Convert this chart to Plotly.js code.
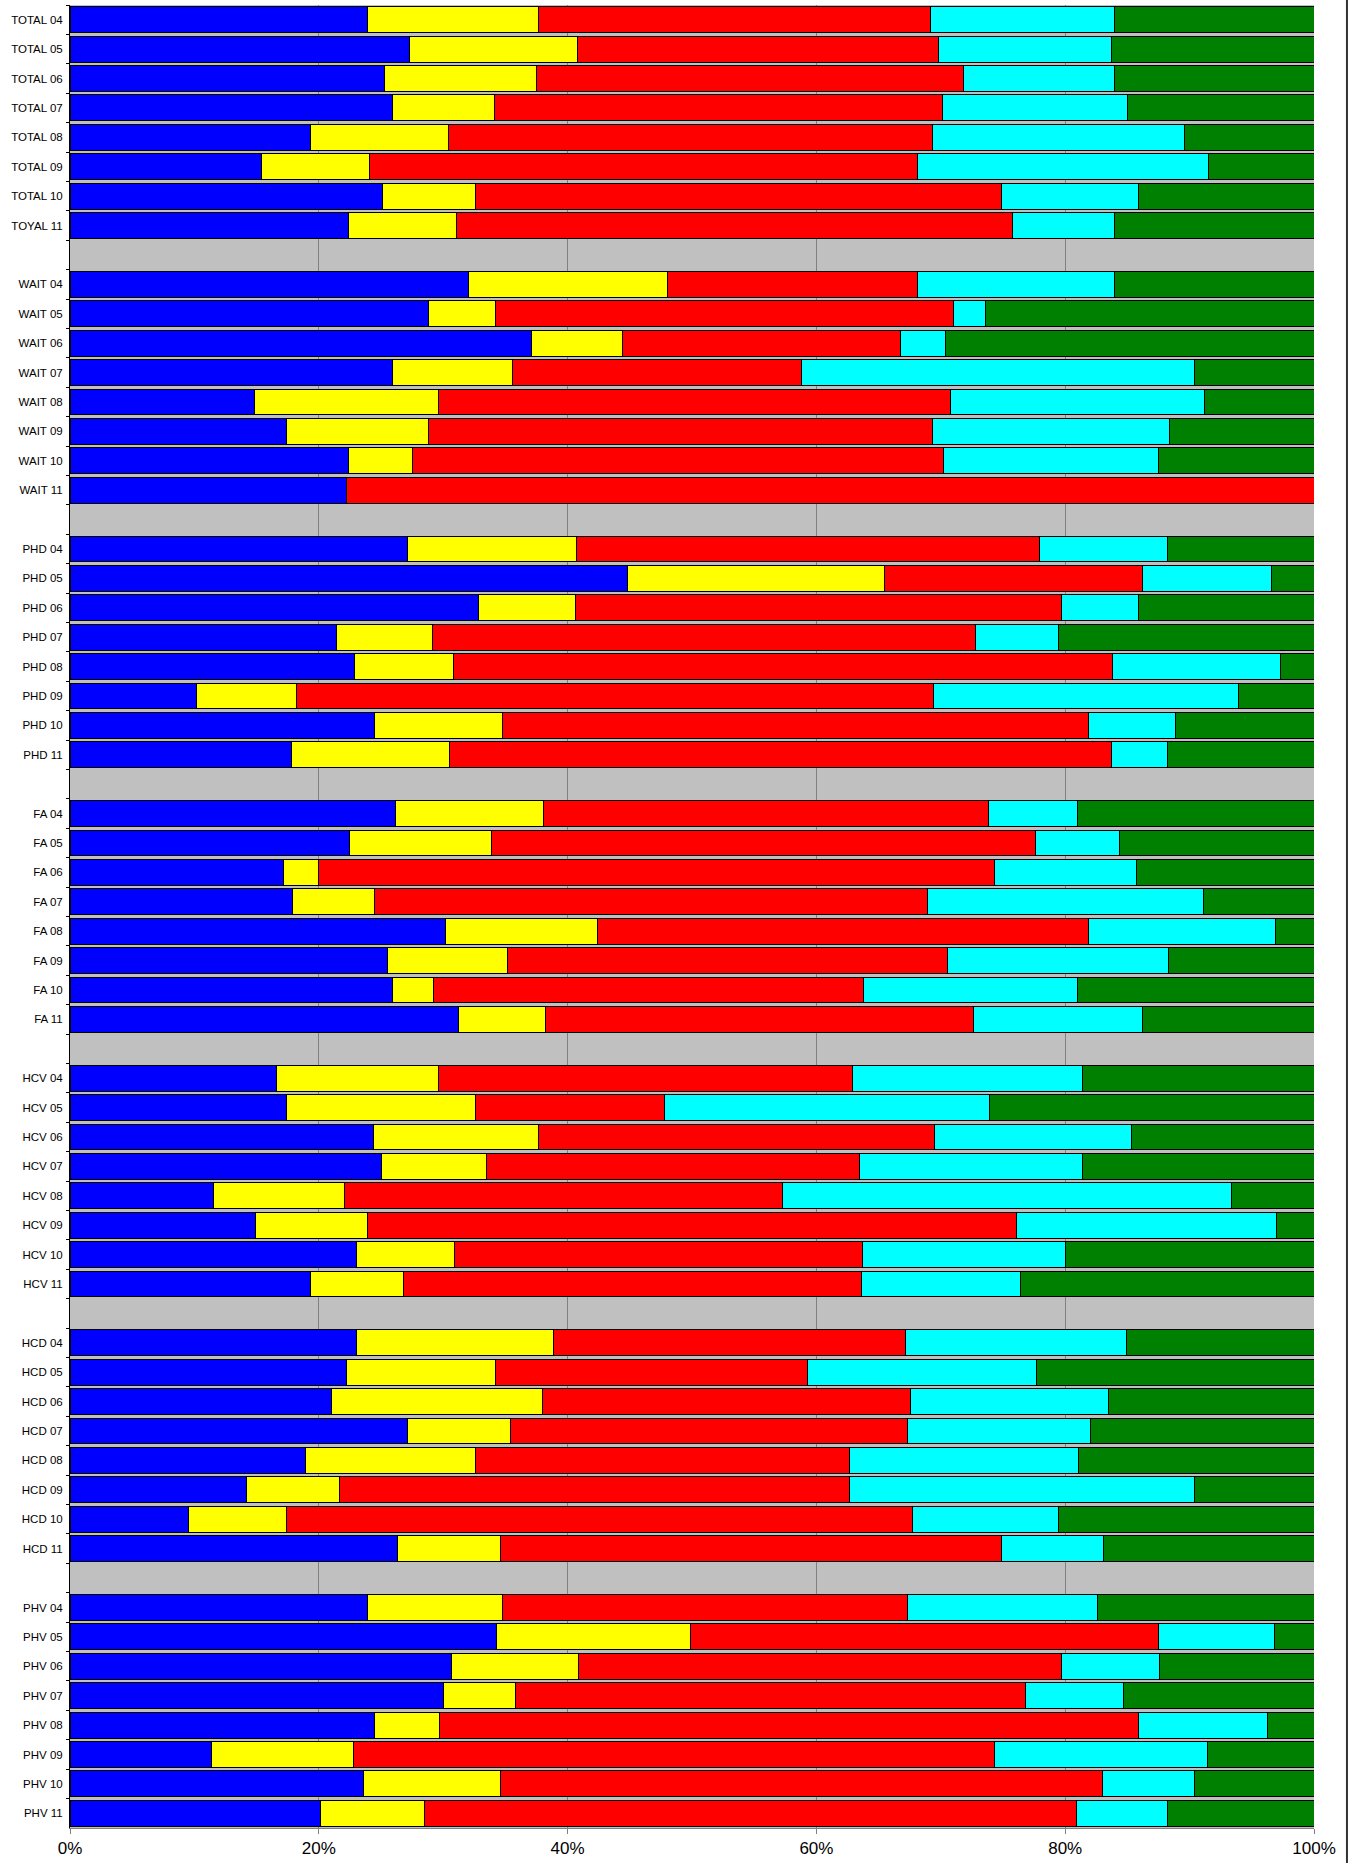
<!DOCTYPE html>
<html>
<head>
<meta charset="utf-8">
<script src="https://cdn.plot.ly/plotly-3.0.1.min.js"></script>
<style>
  html, body { margin: 0; padding: 0; background: #ffffff; }
  #chart { width: 1350px; height: 1863px; }
</style>
</head>
<body>
<div id="chart"></div>
<script>
// Row labels, top to bottom, 7 groups of 8 rows
const rowLabels = [
  'TOTAL 04','TOTAL 05','TOTAL 06','TOTAL 07','TOTAL 08','TOTAL 09','TOTAL 10','TOYAL 11',
  'WAIT 04','WAIT 05','WAIT 06','WAIT 07','WAIT 08','WAIT 09','WAIT 10','WAIT 11',
  'PHD 04','PHD 05','PHD 06','PHD 07','PHD 08','PHD 09','PHD 10','PHD 11',
  'FA 04','FA 05','FA 06','FA 07','FA 08','FA 09','FA 10','FA 11',
  'HCV 04','HCV 05','HCV 06','HCV 07','HCV 08','HCV 09','HCV 10','HCV 11',
  'HCD 04','HCD 05','HCD 06','HCD 07','HCD 08','HCD 09','HCD 10','HCD 11',
  'PHV 04','PHV 05','PHV 06','PHV 07','PHV 08','PHV 09','PHV 10','PHV 11'
];
const rowsPerGroup = 8;

// Shares (%) per row, same order as rowLabels
const blueVals = [
  23.9,27.3,25.3,25.9,19.3,15.4,25.1,22.4,
  32.0,28.8,37.1,25.9,14.8,17.4,22.4,22.2,
  27.1,44.8,32.8,21.4,22.9,10.2,24.5,17.8,
  26.2,22.5,17.2,17.9,30.2,25.5,25.9,31.2,
  16.6,17.4,24.4,25.0,11.5,14.9,23.0,19.3,
  23.0,22.2,21.0,27.1,18.9,14.2,9.5,26.3,
  23.9,34.3,30.7,30.0,24.5,11.4,23.6,20.1
];
const yellowVals = [
  13.8,13.5,12.2,8.2,11.1,8.7,7.5,8.7,
  16.0,5.4,7.3,9.7,14.8,11.4,5.1,0,
  13.6,20.7,7.8,7.7,7.9,8.0,10.3,12.7,
  11.9,11.4,2.8,6.6,12.2,9.7,3.3,7.0,
  13.0,15.2,13.3,8.5,10.6,9.0,7.9,7.5,
  15.9,12.0,17.0,8.3,13.7,7.5,7.9,8.3,
  10.9,15.6,10.2,5.8,5.2,11.4,11.0,8.4
];
const redVals = [
  31.5,29.0,34.3,36.0,38.9,44.0,42.3,44.7,
  20.1,36.8,22.4,23.2,41.2,40.5,42.7,77.8,
  37.2,20.7,39.1,43.7,53.0,51.2,47.1,53.2,
  35.7,43.7,54.3,44.4,39.5,35.3,34.6,34.4,
  33.3,15.2,31.8,30.0,35.2,52.2,32.8,36.8,
  28.3,25.1,29.6,31.9,30.1,41.0,50.3,40.3,
  32.5,37.6,38.8,41.0,56.2,51.5,48.4,52.4
];
const cyanVals = [
  14.8,13.9,12.2,14.9,20.3,23.4,11.0,8.2,
  15.9,2.6,3.6,31.6,20.4,19.1,17.3,0,
  10.3,10.4,6.2,6.7,13.5,24.5,7.0,4.5,
  7.2,6.8,11.4,22.2,15.0,17.8,17.2,13.6,
  18.5,26.1,15.8,17.9,36.1,20.9,16.3,12.8,
  17.7,18.4,15.9,14.7,18.4,27.7,11.8,8.2,
  15.3,9.3,7.9,7.9,10.4,17.1,7.4,7.3
];
const greenVals = [
  16.0,16.3,16.0,15.0,10.4,8.5,14.1,16.0,
  16.0,26.4,29.6,9.6,8.8,11.6,12.5,0,
  11.8,3.4,14.1,20.5,2.7,6.1,11.1,11.8,
  19.0,15.6,14.3,8.9,3.1,11.7,19.0,13.8,
  18.6,26.1,14.7,18.6,6.6,3.0,20.0,23.6,
  15.1,22.3,16.5,18.0,18.9,9.6,20.5,16.9,
  17.4,3.2,12.4,15.3,3.7,8.6,9.6,11.8
];

const seriesNames = ['Series 1','Series 2','Series 3','Series 4','Series 5'];
const seriesColors = ['#0000FF','#FFFF00','#FF0000','#00FFFF','#008000'];
const seriesVals = [blueVals, yellowVals, redVals, cyanVals, greenVals];

// Build category list with blank separator rows between groups
const cats = [];
const rowIndex = []; // index into data arrays or -1 for gap
const nGroups = rowLabels.length / rowsPerGroup;
for (let g = 0; g < nGroups; g++) {
  for (let r = 0; r < rowsPerGroup; r++) {
    const i = g * rowsPerGroup + r;
    cats.push(rowLabels[i]);
    rowIndex.push(i);
  }
  if (g < nGroups - 1) {
    cats.push(' '.repeat(g + 1));
    rowIndex.push(-1);
  }
}

const traces = seriesVals.map((vals, s) => ({
  type: 'bar',
  orientation: 'h',
  name: seriesNames[s],
  y: cats,
  x: rowIndex.map(i => (i < 0 || vals[i] === 0) ? null : vals[i]),
  marker: { color: seriesColors[s], line: { color: '#000000', width: 1 } },
  hoverinfo: 'skip'
}));

const layout = {
  width: 1350,
  height: 1863,
  margin: { l: 70, r: 36, t: 5, b: 35, pad: 0 },
  paper_bgcolor: '#FFFFFF',
  plot_bgcolor: '#C0C0C0',
  barmode: 'stack',
  barnorm: 'percent',
  bargap: 0.12,
  showlegend: false,
  font: { family: 'Liberation Sans, Arial, sans-serif', color: '#000000' },
  xaxis: {
    range: [0, 100],
    tickmode: 'array',
    tickvals: [0, 20, 40, 60, 80, 100],
    ticktext: ['0%', '20%', '40%', '60%', '80%', '100%'],
    ticks: 'outside',
    ticklen: 5,
    tickcolor: '#808080',
    showgrid: true,
    gridcolor: '#808080',
    gridwidth: 1,
    zeroline: false,
    showline: true,
    linecolor: '#808080',
    linewidth: 1,
    tickfont: { size: 17, family: 'Liberation Sans, Arial, sans-serif', color: '#000000' },
    fixedrange: true
  },
  yaxis: {
    type: 'category',
    categoryorder: 'array',
    categoryarray: cats,
    autorange: 'reversed',
    tickson: 'boundaries',
    ticks: 'outside',
    ticklen: 3,
    tickcolor: '#000000',
    ticklabelstandoff: 4,
    showgrid: false,
    zeroline: false,
    showline: true,
    linecolor: '#000000',
    linewidth: 1,
    tickfont: { size: 11.5, family: 'Liberation Sans, Arial, sans-serif', color: '#000000' },
    fixedrange: true
  },
  shapes: [
    {
      type: 'line', xref: 'paper', yref: 'paper',
      x0: 1.0265, x1: 1.0265, y0: -0.02, y1: 1.003,
      line: { color: '#333333', width: 2 }
    }
  ]
};

Plotly.newPlot('chart', traces, layout, { displayModeBar: false, staticPlot: true });
</script>
</body>
</html>
